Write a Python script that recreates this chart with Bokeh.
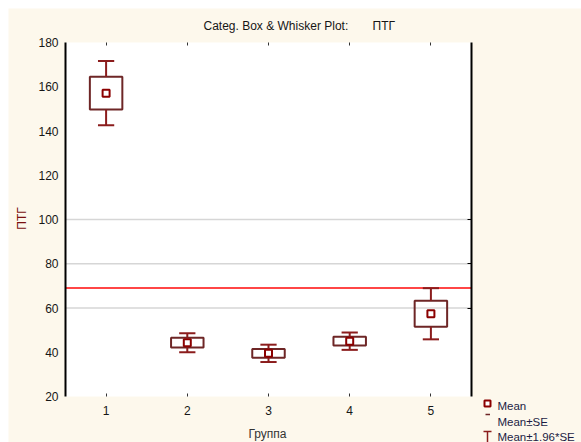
import numpy as np
import pandas as pd
from bokeh.plotting import figure
from bokeh.models import Range1d, FixedTicker, LinearAxis, BoxAnnotation, ColumnDataSource
from bokeh.embed import file_html
from bokeh.resources import INLINE
from bokeh.core.properties import value

# ---- data -------------------------------------------------------------
groups = ["1", "2", "3", "4", "5"]
means = [157.1, 44.3, 39.5, 45.0, 57.4]
std_errs = [7.4, 2.2, 2.0, 2.0, 5.9]
reference_level = 69.0

y_ticks = [20, 40, 60, 80, 100, 120, 140, 160, 180]
grid_ticks = [60, 80, 100]
legend_labels = ["Mean", "Mean±SE", "Mean±1.96*SE"]

title_text = "Categ. Box & Whisker Plot:"
var_name = "ПТГ"
x_title = "Группа"

# ---- style ------------------------------------------------------------
FONT = "Liberation Sans"
FS = "12px"
CREAM = "#fdf8ec"
BOX_COLOR = "#6e2626"
WHISKER_COLOR = "#8b1c1c"
MEAN_COLOR = "#8b0000"
TEXT_COLOR = "#161616"
BOX_HALF = 0.2
CAP_HALF = 0.1

# ---- page geometry (pixels) ------------------------------------------
PAGE_MARGIN = 8
PAGE_W, PAGE_H = 581, 442
PLOT_L, PLOT_R, PLOT_T, PLOT_B = 65, 471, 42, 396   # white plot box on the page

X_LO, X_HI = 0.5, len(groups) + 0.5
Y_LO, Y_HI = y_ticks[0], y_ticks[-1]
sx = (PLOT_R - PLOT_L) / (X_HI - X_LO)
sy = (PLOT_B - PLOT_T) / (Y_HI - Y_LO)
# the drawing frame fills the whole figure; data ranges extend past the plot box
x_start = X_LO - (PLOT_L - PAGE_MARGIN) / sx
x_end = X_HI + (PAGE_W - PLOT_R) / sx
y_start = Y_LO - (PAGE_H - PLOT_B) / sy
y_end = Y_HI + (PLOT_T - PAGE_MARGIN) / sy

df = pd.DataFrame({"group": groups, "mean": means, "se": std_errs})
df["x"] = np.arange(1, len(groups) + 1)
df["lo_se"] = df["mean"] - df["se"]
df["hi_se"] = df["mean"] + df["se"]
df["lo_ci"] = df["mean"] - 1.96 * df["se"]
df["hi_ci"] = df["mean"] + 1.96 * df["se"]
df["box_l"] = df["x"] - BOX_HALF
df["box_r"] = df["x"] + BOX_HALF
df["cap_l"] = df["x"] - CAP_HALF
df["cap_r"] = df["x"] + CAP_HALF
src = ColumnDataSource(df)

p = figure(width=PAGE_W - PAGE_MARGIN, height=PAGE_H - PAGE_MARGIN,
           x_range=Range1d(x_start, x_end), y_range=Range1d(y_start, y_end),
           output_backend="svg", toolbar_location=None, title=None,
           min_border=0, min_border_left=0, min_border_right=0,
           min_border_top=0, min_border_bottom=0,
           background_fill_color=CREAM, border_fill_color=CREAM,
           outline_line_color=None, margin=(PAGE_MARGIN, 0, 0, PAGE_MARGIN))
# page-pixel ranges for the free-standing texts and the legend block
p.extra_x_ranges = {"px": Range1d(PAGE_MARGIN, PAGE_W)}
p.extra_y_ranges = {"px": Range1d(PAGE_H, PAGE_MARGIN)}
PX = dict(x_range_name="px", y_range_name="px")

p.grid.visible = False

# white plot box
p.add_layout(BoxAnnotation(left=X_LO, right=X_HI, bottom=Y_LO, top=Y_HI,
                           fill_color="white", fill_alpha=1.0, line_color=None,
                           level="underlay"))

# left axis
ya = p.yaxis[0]
ya.fixed_location = X_LO
ya.ticker = FixedTicker(ticks=y_ticks)
ya.bounds = (Y_LO, Y_HI)
ya.axis_line_color = "black"
ya.axis_line_width = 2
ya.major_tick_in = 0
ya.major_tick_out = 0
ya.minor_tick_line_color = None
ya.major_label_standoff = 7
ya.major_label_text_font = FONT
ya.major_label_text_font_size = FS
ya.major_label_text_color = TEXT_COLOR

# bottom axis
xa = p.xaxis[0]
xa.fixed_location = Y_LO
xa.ticker = FixedTicker(ticks=list(df["x"]))
xa.major_label_overrides = {int(x): g for x, g in zip(df["x"], groups)}
xa.axis_line_color = None
xa.major_tick_in = 3
xa.major_tick_out = 0
xa.major_tick_line_color = "#333333"
xa.minor_tick_line_color = None
xa.major_label_standoff = 9
xa.major_label_text_font = FONT
xa.major_label_text_font_size = FS
xa.major_label_text_color = TEXT_COLOR

# right edge of the plot box: line with inward ticks
p.add_layout(LinearAxis(fixed_location=X_HI, bounds=(Y_LO, Y_HI),
                        ticker=FixedTicker(ticks=grid_ticks),
                        axis_line_color="black", axis_line_width=2,
                        major_tick_in=4, major_tick_out=0,
                        major_tick_line_color="black", minor_tick_line_color=None,
                        major_label_text_font_size="0px",
                        major_label_text_color=None), "right")

# top edge: small inward ticks only
p.add_layout(LinearAxis(fixed_location=Y_HI, ticker=FixedTicker(ticks=list(df["x"])),
                        axis_line_color=None, major_tick_in=3, major_tick_out=0,
                        major_tick_line_color="#333333", minor_tick_line_color=None,
                        major_label_text_font_size="0px",
                        major_label_text_color=None), "above")

# title, axis titles
p.text(x=[203, 372], y=[25, 25], text=[title_text, var_name], text_font=value(FONT),
       text_font_size=FS, text_baseline="middle", text_align="left",
       text_color=TEXT_COLOR, **PX)
p.text(x=[21], y=[218], text=[var_name], angle=np.pi / 2, text_font=value(FONT),
       text_font_size=FS, text_baseline="middle", text_align="center",
       text_color="#7a1010", **PX)
p.text(x=[267], y=[433], text=[x_title], text_font=value(FONT),
       text_font_size=FS, text_baseline="middle", text_align="center",
       text_color="#333333", **PX)

# horizontal grid lines inside the plot box
p.segment(x0=X_LO, x1=X_HI, y0=grid_ticks, y1=grid_ticks,
          line_color="#d6d6d6", line_width=1.5)

# reference level
p.segment(x0=[X_LO], x1=[X_HI], y0=[reference_level], y1=[reference_level],
          line_color="#ff4646", line_width=2)

# Mean ± SE boxes
p.quad(left="box_l", right="box_r", bottom="lo_se", top="hi_se", source=src,
       fill_color=None, line_color=BOX_COLOR, line_width=2)

# Mean ± 1.96*SE whiskers with caps
p.segment(x0="x", y0="hi_se", x1="x", y1="hi_ci", source=src,
          line_color=WHISKER_COLOR, line_width=2)
p.segment(x0="x", y0="lo_se", x1="x", y1="lo_ci", source=src,
          line_color=WHISKER_COLOR, line_width=2)
p.segment(x0="cap_l", y0="hi_ci", x1="cap_r", y1="hi_ci", source=src,
          line_color=WHISKER_COLOR, line_width=2)
p.segment(x0="cap_l", y0="lo_ci", x1="cap_r", y1="lo_ci", source=src,
          line_color=WHISKER_COLOR, line_width=2)

# means
p.scatter(x="x", y="mean", source=src, marker="square", size=7,
          fill_color="white", line_color=MEAN_COLOR, line_width=2)

# ---- legend block ----------------------------------------------------
KEY_X = 487
TEXT_X = 497
text_y = [405, 421.5, 436.5]
p.text(x=[TEXT_X] * 3, y=text_y, text=legend_labels, text_font=value(FONT),
       text_font_size="11.5px", text_baseline="middle", text_color="#1c1c44", **PX)
p.scatter(x=[KEY_X], y=[403], marker="square", size=6, fill_color="white",
          line_color=MEAN_COLOR, line_width=2, **PX)
p.segment(x0=[KEY_X - 2], y0=[414], x1=[KEY_X + 2.5], y1=[414],
          line_color=BOX_COLOR, line_width=1.5, **PX)
p.segment(x0=[KEY_X - 4], y0=[431], x1=[KEY_X + 4], y1=[431],
          line_color=WHISKER_COLOR, line_width=1.5, **PX)
p.segment(x0=[KEY_X], y0=[431], x1=[KEY_X], y1=[442],
          line_color=WHISKER_COLOR, line_width=1.5, **PX)

open("out.html", "w").write(file_html(p, INLINE))
